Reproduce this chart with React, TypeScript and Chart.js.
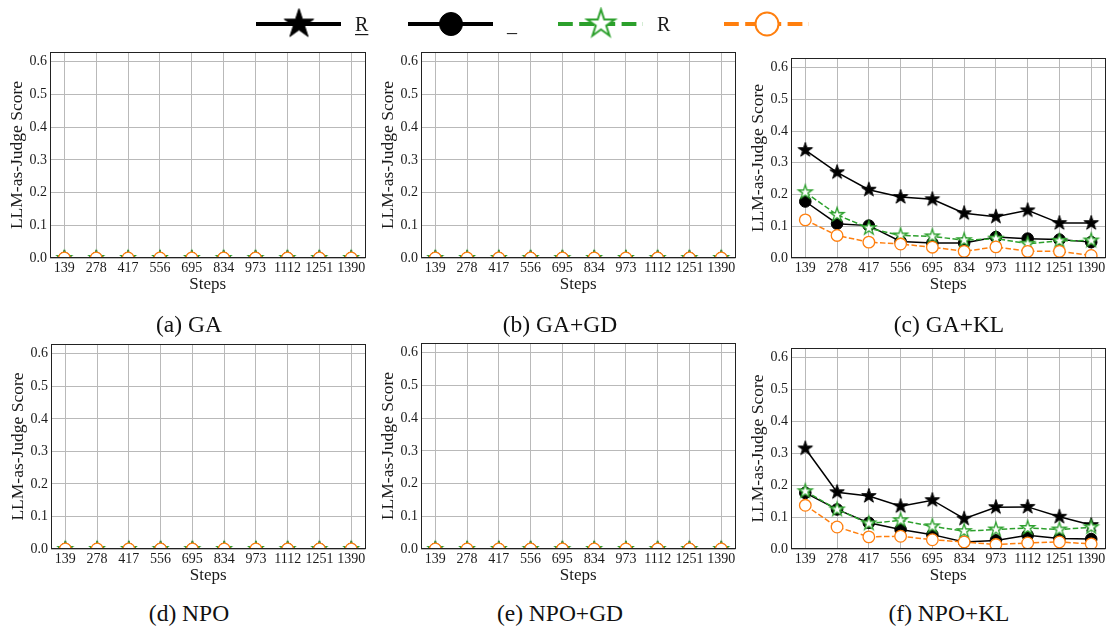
import React, { useEffect, useRef } from "react";
import { Chart, registerables } from "chart.js";

Chart.register(...registerables);

// ---------------- data ----------------
const STEPS = [139, 278, 417, 556, 695, 834, 973, 1112, 1251, 1390];
const Y_TICKS = [0, 0.1, 0.2, 0.3, 0.4, 0.5, 0.6];
const Y_MAX = 0.63;

const SERIES_LABELS = ["R", "_", "R", ""];

const ZERO_SCORES = [0, 0, 0, 0, 0, 0, 0, 0, 0, 0];

const GA_KL_S1 = [0.34, 0.27, 0.215, 0.192, 0.185, 0.141, 0.13, 0.15, 0.11, 0.11];
const GA_KL_S2 = [0.178, 0.108, 0.102, 0.052, 0.047, 0.047, 0.066, 0.061, 0.058, 0.05];
const GA_KL_S3 = [0.207, 0.136, 0.094, 0.071, 0.068, 0.056, 0.061, 0.045, 0.054, 0.055];
const GA_KL_S4 = [0.12, 0.071, 0.05, 0.044, 0.034, 0.021, 0.035, 0.021, 0.021, 0.008];

const NPO_KL_S1 = [0.315, 0.178, 0.166, 0.134, 0.153, 0.095, 0.131, 0.132, 0.101, 0.075];
const NPO_KL_S2 = [0.176, 0.124, 0.082, 0.061, 0.045, 0.022, 0.027, 0.043, 0.033, 0.031];
const NPO_KL_S3 = [0.181, 0.124, 0.08, 0.09, 0.071, 0.056, 0.061, 0.066, 0.061, 0.068];
const NPO_KL_S4 = [0.137, 0.069, 0.038, 0.04, 0.029, 0.022, 0.014, 0.019, 0.022, 0.016];

const CAPTIONS = ["(a) GA", "(b) GA+GD", "(c) GA+KL", "(d) NPO", "(e) NPO+GD", "(f) NPO+KL"];
const PANEL_SERIES = [
  [ZERO_SCORES, ZERO_SCORES, ZERO_SCORES, ZERO_SCORES],
  [ZERO_SCORES, ZERO_SCORES, ZERO_SCORES, ZERO_SCORES],
  [GA_KL_S1, GA_KL_S2, GA_KL_S3, GA_KL_S4],
  [ZERO_SCORES, ZERO_SCORES, ZERO_SCORES, ZERO_SCORES],
  [ZERO_SCORES, ZERO_SCORES, ZERO_SCORES, ZERO_SCORES],
  [NPO_KL_S1, NPO_KL_S2, NPO_KL_S3, NPO_KL_S4],
];

// ---------------- layout (plot rectangles: left, top, right, bottom) ----------------
const PLOT_RECTS = [
  [50, 52, 368, 258],
  [421, 52, 738, 258],
  [791, 58, 1108, 258],
  [51, 344, 368, 549],
  [421, 343, 738, 549],
  [791, 348, 1108, 549],
];
const CAPTION_POS = [
  [189, 324],
  [560, 324],
  [949, 324],
  [189, 613],
  [560, 613],
  [949, 613],
];
const Y_AXIS_W = 50;
const X_AXIS_H = 45;
const PAD_TOP = 14;
const PAD_RIGHT = 6;

const FONT = "'Liberation Serif', 'Times New Roman', serif";
const TEXT_COLOR = "#1a1a1a";
const GRID_COLOR = "#b9b9b9";
const GREEN = "#2ca02c";
const ORANGE = "#ff7f0e";

const X_MARGIN = (STEPS[STEPS.length - 1] - STEPS[0]) * 0.05;
const X_MIN = STEPS[0] - X_MARGIN;
const X_MAX = STEPS[STEPS.length - 1] + X_MARGIN;

function starPath(ctx: CanvasRenderingContext2D, cx: number, cy: number, R: number) {
  ctx.beginPath();
  for (let i = 0; i < 10; i++) {
    const a = -Math.PI / 2 + (i * Math.PI) / 5;
    const r = i % 2 === 0 ? R : R * 0.381966;
    const x = cx + r * Math.cos(a);
    const y = cy + r * Math.sin(a);
    if (i === 0) ctx.moveTo(x, y);
    else ctx.lineTo(x, y);
  }
  ctx.closePath();
}

function makeStar(R: number, fill: string, stroke: string, lw: number) {
  const pad = lw + 1;
  const size = Math.ceil(2 * (R + pad));
  const c = document.createElement("canvas");
  c.width = size;
  c.height = size;
  const ctx = c.getContext("2d")!;
  starPath(ctx, size / 2, size / 2, R);
  ctx.fillStyle = fill;
  ctx.fill();
  ctx.lineWidth = lw;
  ctx.lineJoin = "miter";
  ctx.strokeStyle = stroke;
  ctx.stroke();
  return c;
}

const framePlugin = {
  id: "frame",
  afterDatasetsDraw(chart: any) {
    const { ctx, chartArea } = chart;
    ctx.save();
    ctx.strokeStyle = "#222";
    ctx.lineWidth = 1;
    ctx.strokeRect(
      Math.round(chartArea.left) + 0.5,
      Math.round(chartArea.top) + 0.5,
      Math.round(chartArea.right - chartArea.left) - 1,
      Math.round(chartArea.bottom - chartArea.top) - 1
    );
    ctx.restore();
  },
};

function datasetStyles() {
  const blackStar = makeStar(7.6, "#000", "#000", 1);
  const greenStar = makeStar(7.3, "#fff", GREEN, 1.3);
  return [
    {
      borderColor: "#000",
      backgroundColor: "#000",
      borderWidth: 1.5,
      pointStyle: blackStar,
      pointRadius: 7,
      order: 4,
    },
    {
      borderColor: "#000",
      backgroundColor: "#000",
      borderWidth: 1.5,
      pointStyle: "circle",
      pointRadius: 5.8,
      pointBackgroundColor: "#000",
      pointBorderColor: "#000",
      pointBorderWidth: 1,
      order: 3,
    },
    {
      borderColor: GREEN,
      backgroundColor: GREEN,
      borderWidth: 1.5,
      borderDash: [5.5, 2.4],
      pointStyle: greenStar,
      pointRadius: 7,
      order: 2,
    },
    {
      borderColor: ORANGE,
      backgroundColor: ORANGE,
      borderWidth: 1.5,
      borderDash: [5.5, 2.4],
      pointStyle: "circle",
      pointRadius: 5.8,
      pointBackgroundColor: "#fff",
      pointBorderColor: ORANGE,
      pointBorderWidth: 1.3,
      order: 1,
    },
  ];
}

function panelConfig(series: number[][], styles: any[]): any {
  return {
    type: "line",
    data: {
      datasets: series.map((vals, i) => ({
        label: SERIES_LABELS[i],
        data: STEPS.map((s, j) => ({ x: s, y: vals[j] })),
        tension: 0,
        fill: false,
        clip: { left: false, top: false, right: false, bottom: 0 },
        ...styles[i],
      })),
    },
    options: {
      animation: false,
      responsive: false,
      events: [],
      layout: { padding: { left: 0, top: PAD_TOP, right: PAD_RIGHT, bottom: 0 } },
      plugins: { legend: { display: false }, tooltip: { enabled: false } },
      scales: {
        x: {
          type: "linear",
          min: X_MIN,
          max: X_MAX,
          afterBuildTicks: (s: any) => {
            s.ticks = STEPS.map((v) => ({ value: v }));
          },
          afterFit: (s: any) => {
            s.height = X_AXIS_H;
          },
          ticks: {
            autoSkip: false,
            maxRotation: 0,
            minRotation: 0,
            padding: 2,
            color: TEXT_COLOR,
            font: { family: FONT, size: 14 },
            callback: (v: any) => String(v),
          },
          grid: { color: GRID_COLOR, lineWidth: 1, drawTicks: false },
          border: { display: false },
          title: {
            display: true,
            text: "Steps",
            color: TEXT_COLOR,
            font: { family: FONT, size: 17 },
            padding: { top: 0, bottom: 8 },
          },
        },
        y: {
          type: "linear",
          min: 0,
          max: Y_MAX,
          afterBuildTicks: (s: any) => {
            s.ticks = Y_TICKS.map((v) => ({ value: v }));
          },
          afterFit: (s: any) => {
            s.width = Y_AXIS_W;
          },
          ticks: {
            padding: 3,
            color: TEXT_COLOR,
            font: { family: FONT, size: 14 },
            callback: (v: any) => Number(v).toFixed(1),
          },
          grid: { color: GRID_COLOR, lineWidth: 1, drawTicks: false },
          border: { display: false },
          title: {
            display: true,
            text: "LLM-as-Judge Score",
            color: TEXT_COLOR,
            font: { family: FONT, size: 17.5 },
            padding: { top: 7, bottom: 0 },
          },
        },
      },
    },
    plugins: [framePlugin],
  };
}

// legend entry starting x positions and geometry
const LEGEND_X = [256, 408, 558, 724];
const LEGEND_Y = 24;

function legendConfig(): any {
  const bigBlackStar = makeStar(15.5, "#000", "#000", 1);
  const bigGreenStar = makeStar(14.5, "#fff", GREEN, 2);
  const legendPlugin = {
    id: "figLegend",
    afterDraw(chart: any) {
      const ctx: CanvasRenderingContext2D = chart.ctx;
      chart.data.datasets.forEach((ds: any, i: number) => {
        const x0 = LEGEND_X[i];
        ctx.save();
        ctx.strokeStyle = ds.borderColor;
        ctx.lineWidth = 4;
        ctx.setLineDash(ds.borderDash ? [14.8, 6.4] : []);
        ctx.beginPath();
        ctx.moveTo(x0, LEGEND_Y);
        ctx.lineTo(x0 + 85, LEGEND_Y);
        ctx.stroke();
        ctx.setLineDash([]);
        const mx = x0 + 43;
        if (i === 0 || i === 2) {
          const img = i === 0 ? bigBlackStar : bigGreenStar;
          ctx.drawImage(img, mx - img.width / 2, LEGEND_Y - img.height / 2);
        } else {
          ctx.beginPath();
          ctx.arc(mx, LEGEND_Y, 11.5, 0, Math.PI * 2);
          ctx.fillStyle = i === 1 ? "#000" : "#fff";
          ctx.fill();
          ctx.lineWidth = i === 1 ? 1 : 2;
          ctx.strokeStyle = ds.borderColor;
          ctx.stroke();
        }
        ctx.fillStyle = TEXT_COLOR;
        ctx.font = `20px ${FONT}`;
        ctx.textBaseline = "middle";
        ctx.textAlign = "left";
        const tx = x0 + 99;
        const label = ds.label || "";
        ctx.fillText(label, tx, LEGEND_Y + 2);
        if (i === 0 && label) {
          const w = ctx.measureText(label).width;
          ctx.fillRect(tx, LEGEND_Y + 10, w, 1.2);
        }
        ctx.restore();
      });
    },
  };
  return {
    type: "line",
    data: {
      datasets: SERIES_LABELS.map((lab, i) => ({
        label: lab,
        data: [],
        borderColor: ["#000", "#000", GREEN, ORANGE][i],
        borderDash: i >= 2 ? [5.5, 2.4] : undefined,
      })),
    },
    options: {
      animation: false,
      responsive: false,
      events: [],
      plugins: { legend: { display: false }, tooltip: { enabled: false } },
      scales: { x: { display: false }, y: { display: false } },
    },
    plugins: [legendPlugin],
  };
}

export default function App() {
  const panelRefs = useRef<(HTMLCanvasElement | null)[]>([]);
  const legendRef = useRef<HTMLCanvasElement | null>(null);

  useEffect(() => {
    document.body.style.margin = "0";
    const styles = datasetStyles();
    const charts: Chart[] = [];
    PANEL_SERIES.forEach((series, i) => {
      const c = panelRefs.current[i];
      if (c) charts.push(new Chart(c, panelConfig(series, styles)));
    });
    if (legendRef.current) charts.push(new Chart(legendRef.current, legendConfig()));
    return () => charts.forEach((ch) => ch.destroy());
  }, []);

  return (
    <div
      style={{
        position: "absolute",
        left: 0,
        top: 0,
        width: 1111,
        height: 628,
        overflow: "hidden",
        background: "#fff",
      }}
    >
      <canvas
        ref={legendRef}
        width={1111}
        height={48}
        style={{ position: "absolute", left: 0, top: 0, width: 1111, height: 48 }}
      />
      {PLOT_RECTS.map(([l, t, r, b], i) => {
        const w = r - l + Y_AXIS_W + PAD_RIGHT;
        const h = b - t + PAD_TOP + X_AXIS_H;
        return (
          <canvas
            key={i}
            ref={(el) => {
              panelRefs.current[i] = el;
            }}
            width={w}
            height={h}
            style={{ position: "absolute", left: l - Y_AXIS_W, top: t - PAD_TOP, width: w, height: h }}
          />
        );
      })}
      {CAPTIONS.map((cap, i) => (
        <div
          key={cap}
          style={{
            position: "absolute",
            left: CAPTION_POS[i][0] - 150,
            top: CAPTION_POS[i][1] - 14,
            width: 300,
            height: 28,
            lineHeight: "28px",
            textAlign: "center",
            fontFamily: FONT,
            fontSize: 23.5,
            color: "#111",
            whiteSpace: "nowrap",
          }}
        >
          {cap}
        </div>
      ))}
    </div>
  );
}
